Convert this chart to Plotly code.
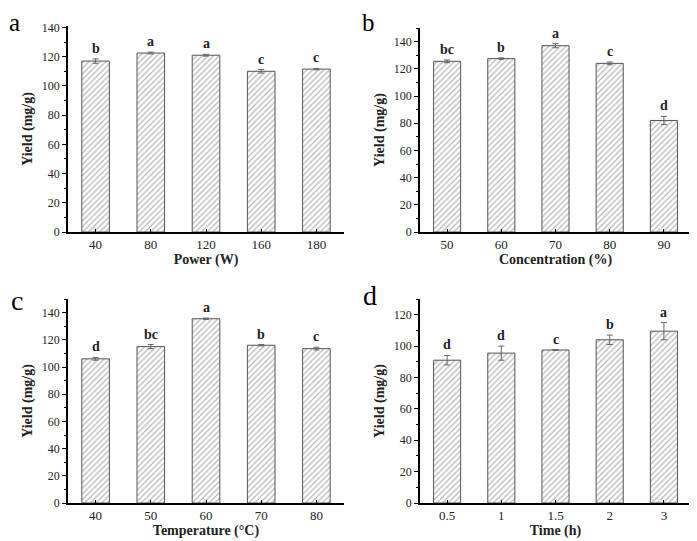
import plotly.graph_objects as go

# ---- data ----
power_cats = ["40", "80", "120", "160", "180"]
power_vals = [117.0, 122.5, 121.0, 110.0, 111.5]
power_err = [1.5, 0.6, 0.6, 1.2, 0.5]
power_sig = ["b", "a", "a", "c", "c"]

conc_cats = ["50", "60", "70", "80", "90"]
conc_vals = [125.5, 127.5, 137.0, 124.0, 82.0]
conc_err = [1.0, 0.5, 1.5, 1.0, 3.0]
conc_sig = ["bc", "b", "a", "c", "d"]

temp_cats = ["40", "50", "60", "70", "80"]
temp_vals = [106.0, 115.0, 135.5, 116.0, 113.5]
temp_err = [1.0, 1.5, 0.5, 0.5, 1.0]
temp_sig = ["d", "bc", "a", "b", "c"]

time_cats = ["0.5", "1", "1.5", "2", "3"]
time_vals = [91.0, 95.5, 97.5, 104.0, 109.5]
time_err = [3.0, 4.5, 0.3, 3.0, 5.5]
time_sig = ["d", "d", "c", "b", "a"]

panels = [
    dict(cats=power_cats, vals=power_vals, err=power_err, sig=power_sig,
         xt="Power (W)", ymax=141, dtick=20, label="a"),
    dict(cats=conc_cats, vals=conc_vals, err=conc_err, sig=conc_sig,
         xt="Concentration (%)", ymax=150, dtick=20, label="b"),
    dict(cats=temp_cats, vals=temp_vals, err=temp_err, sig=temp_sig,
         xt="Temperature (\u00b0C)", ymax=150, dtick=20, label="c"),
    dict(cats=time_cats, vals=time_vals, err=time_err, sig=time_sig,
         xt="Time (h)", ymax=130, dtick=20, label="d"),
]

# page is offset by the 8px body margin
OFF = 8
W, H = 697 - OFF, 541 - OFF


def px_x(p):
    return (p - OFF) / W


def px_y(p):
    return 1 - (p - OFF) / H


xdoms = [[px_x(68), px_x(344)], [px_x(420), px_x(691)],
         [px_x(68), px_x(344)], [px_x(420), px_x(691)]]
ydoms = [[px_y(232), px_y(26)], [px_y(232), px_y(28)],
         [px_y(503), px_y(299)], [px_y(503), px_y(299)]]
# (left x, top y) of panel letter boxes in page pixels
label_pos = [(8, 8), (361, 8), (10, 284), (362, 279)]
label_size = [25, 25, 28, 28]

SERIF = "Liberation Serif, Times New Roman, serif"

fig = go.Figure()
annotations = []
layout = {}
for i, p in enumerate(panels):
    n = "" if i == 0 else str(i + 1)
    xa, ya = "x" + n, "y" + n
    fig.add_trace(go.Bar(
        x=p["cats"], y=p["vals"], xaxis=xa, yaxis=ya, width=0.5,
        marker=dict(color="white",
                    line=dict(color="#555555", width=1),
                    pattern=dict(shape="/", fgcolor="#6e6e6e", bgcolor="white",
                                 size=4, solidity=0.3)),
        error_y=dict(type="data", array=p["err"], color="#666666",
                     thickness=1, width=3),
        showlegend=False,
    ))
    for j, (v, e, s) in enumerate(zip(p["vals"], p["err"], p["sig"])):
        annotations.append(dict(
            x=j, y=v + e, xref=xa, yref=ya, text="<b>" + s + "</b>",
            showarrow=False, yanchor="bottom", yshift=1,
            font=dict(family=SERIF, size=14, color="#222222")))
    lx, ly = label_pos[i]
    annotations.append(dict(
        x=px_x(lx), y=px_y(ly), xref="paper", yref="paper", text=p["label"],
        showarrow=False, xanchor="left", yanchor="top", borderpad=0,
        font=dict(family=SERIF, size=label_size[i], color="black")))
    layout["xaxis" + n] = dict(
        domain=xdoms[i], anchor=ya, type="category", range=[-0.5, 4.5],
        showline=True, linecolor="black", linewidth=1.5, mirror=False,
        ticks="inside", ticklen=3, tickcolor="black",
        showgrid=False, zeroline=False, automargin=False,
        tickfont=dict(family=SERIF, size=13, color="#222222"),
        title=dict(text="<b>" + p["xt"] + "</b>", standoff=2,
                   font=dict(family=SERIF, size=14, color="#222222")),
    )
    layout["yaxis" + n] = dict(
        domain=ydoms[i], anchor=xa, range=[0, p["ymax"]], dtick=p["dtick"],
        showline=True, linecolor="black", linewidth=1.5,
        ticks="outside", ticklen=4, tickcolor="black",
        minor=dict(ticks="outside", ticklen=2, dtick=p["dtick"] / 2, tickcolor="black"),
        showgrid=False, zeroline=False, automargin=False,
        tickfont=dict(family=SERIF, size=12, color="#222222"),
        title=dict(text="<b>Yield (mg/g)</b>", standoff=6,
                   font=dict(family=SERIF, size=14, color="#222222")),
    )

fig.update_layout(
    width=W, height=H, margin=dict(l=0, r=0, t=0, b=0),
    paper_bgcolor="white", plot_bgcolor="white",
    annotations=annotations, **layout,
)

fig.write_html("out.html")
